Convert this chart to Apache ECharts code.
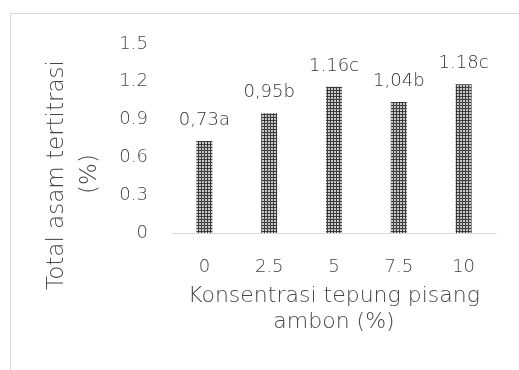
<!DOCTYPE html>
<html><head><meta charset="utf-8">
<script src="https://cdn.jsdelivr.net/npm/echarts@6/dist/echarts.min.js"></script>
<style>html,body{margin:0;padding:0;background:#fff}#c{width:519px;height:370px}</style>
</head><body><div id="c"></div>
<script>
const categories = ['0', '2.5', '5', '7.5', '10'];
const values = [0.73, 0.95, 1.16, 1.04, 1.18];
const valueLabels = ['0,73a', '0,95b', '1.16c', '1,04b', '1.18c'];
const yTicks = ['0', '0.3', '0.6', '0.9', '1.2', '1.5'];
const yTitle = ['Total asam tertitrasi', '(%)'];
const xTitle = 'Konsentrasi tepung pisang\nambon (%)';

const pc = document.createElement('canvas');
pc.width = 3; pc.height = 3;
const px = pc.getContext('2d');
px.fillStyle = '#3c3c3c'; px.fillRect(0,0,3,3);
px.fillStyle = '#c8c8c8'; px.fillRect(1,1,2,2);

const font = '"DejaVu Sans Light", "DejaVu Sans ExtraLight", "DejaVu Sans"';
const fw = 200;
const tc = '#454545';
const chart = echarts.init(document.getElementById('c'));
chart.setOption({
  animation: false,
  graphic: [
    {type:'rect', shape:{x:10.5,y:13.5,width:700,height:600}, style:{fill:'none', stroke:'#d9d9d9', lineWidth:1}, silent:true},
    {type:'text', x:57, y:175, rotation:Math.PI/2, style:{text:yTitle[0], fill:tc, font:fw+' 23px '+font, align:'center', verticalAlign:'middle'}},
    {type:'text', x:90, y:174, rotation:Math.PI/2, style:{text:yTitle[1], fill:tc, font:fw+' 23px '+font, align:'center', verticalAlign:'middle'}}
  ],
  grid: {left:172, right:23, top:44, bottom:137},
  xAxis: {
    type:'category', data: categories,
    axisLine:{lineStyle:{color:'#d9d9d9'}}, axisTick:{show:false},
    axisLabel:{color:tc, fontSize:18, fontFamily:font, fontWeight:fw, margin:25},
    name:xTitle, nameLocation:'middle', nameGap:50,
    nameTextStyle:{color:tc, fontSize:22, fontFamily:font, fontWeight:fw, lineHeight:26}
  },
  yAxis: {
    type:'value', min:0, max:1.5, interval:0.3,
    splitLine:{show:false}, axisLine:{show:false}, axisTick:{show:false},
    axisLabel:{color:tc, fontSize:18, fontFamily:font, fontWeight:fw, margin:24,
      formatter:(v)=>yTicks[Math.round(v/0.3)]}
  },
  series: [{
    type:'bar', data: values, barWidth:16,
    itemStyle:{color:{image:pc, repeat:'repeat'}},
    label:{show:true, position:'top', distance:12, color:'#333333', fontSize:18, fontFamily:font, fontWeight:fw,
      formatter:(p)=>valueLabels[p.dataIndex]}
  }]
});
</script></body></html>
